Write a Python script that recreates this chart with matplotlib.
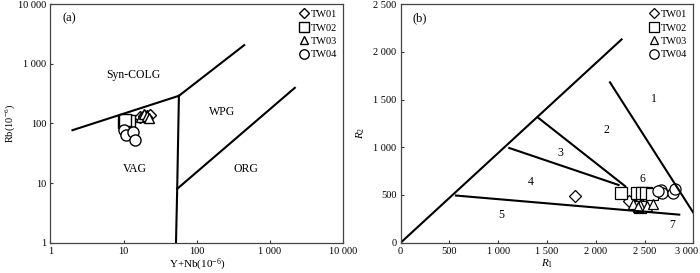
import matplotlib
matplotlib.use("Agg")
import matplotlib.pyplot as plt
import matplotlib.transforms as mtransforms
from matplotlib.ticker import FixedLocator, FuncFormatter, NullLocator

plt.rcParams['font.family'] = ['Liberation Serif', 'DejaVu Serif']
plt.rcParams['mathtext.fontset'] = 'custom'
plt.rcParams['mathtext.rm'] = 'Liberation Serif'
plt.rcParams['mathtext.it'] = 'Liberation Serif:italic'

samples = ['TW01', 'TW02', 'TW03', 'TW04']
markers = ['D', 's', '^', 'o']
msizes = [6, 8, 7, 8]

# (a) Rb vs Y+Nb  (ppm)
a_x = {
    'TW01': [17, 19, 21, 23, 20],
    'TW02': [10, 11, 12, 10.5],
    'TW03': [17.5, 19, 21, 22.5],
    'TW04': [10.2, 10.8, 13.4, 14.4],
}
a_y = {
    'TW01': [128, 135, 132, 140, 126],
    'TW02': [105, 110, 108, 112],
    'TW03': [130, 145, 135, 125],
    'TW04': [79, 65, 71, 52],
}
# Pearce boundaries
a_lines = [
    ([2, 57], [77, 290]),
    ([57, 54, 52], [290, 8, 1]),
    ([54, 2190], [8, 395]),
    ([57, 445], [290, 2050]),
]
a_labels = [('Syn-COLG', 13.5, 650), ('WPG', 220, 158), ('VAG', 14.4, 17), ('ORG', 470, 17)]

# (b) R1-R2
b_x = {
    'TW01': [1790, 2344, 2419, 2440, 2470],
    'TW02': [2258, 2419, 2470, 2515, 2573, 2453],
    'TW03': [2378, 2453, 2521, 2590, 2430],
    'TW04': [2665, 2675, 2795, 2812, 2640],
}
b_y = {
    'TW01': [494, 436, 408, 420, 400],
    'TW02': [519, 519, 519, 519, 512, 373],
    'TW03': [408, 390, 380, 401, 370],
    'TW04': [553, 519, 519, 564, 540],
}
b_lines = [
    ([0, 2265], [0, 2130]),
    ([2146, 3000], [1680, 315]),
    ([1404, 2303], [1314, 591]),
    ([1114, 2234], [992, 605]),
    ([567, 2856], [494, 294]),
]
b_labels = [('1', 2600, 1504), ('2', 2105, 1186), ('3', 1640, 937), ('4', 1336, 633),
            ('5', 1035, 287), ('6', 2474, 667), ('7', 2781, 183)]


def fmt_num(v, pos=None):
    s = f'{int(round(v)):,}'.replace(',', ' ')
    return s


fig = plt.figure(figsize=(7, 2.73), dpi=100)
ax1 = fig.add_axes([0.0721, 0.111, 0.418, 0.874])
ax2 = fig.add_axes([0.5724, 0.111, 0.418, 0.874])

for s, m, ms in zip(samples, markers, msizes):
    ax1.plot(a_x[s], a_y[s], ls='none', marker=m, ms=ms, mfc='white', mec='black', mew=1.0, label=s)
    ax2.plot(b_x[s], b_y[s], ls='none', marker=m, ms=ms, mfc='white', mec='black', mew=0.9, label=s)

for xs, ys in a_lines:
    ax1.plot(xs, ys, color='black', lw=1.5)
for t, x, y in a_labels:
    ax1.text(x, y, t, fontsize=8.5, ha='center', va='center')
for xs, ys in b_lines:
    ax2.plot(xs, ys, color='black', lw=1.5)
for t, x, y in b_labels:
    ax2.text(x, y, t, fontsize=8.5, ha='center', va='center')

ax1.set_xscale('log')
ax1.set_yscale('log')
ax1.set_xlim(1, 10000)
ax1.set_ylim(1, 10000)
dec = [1, 10, 100, 1000, 10000]
ax1.xaxis.set_major_locator(FixedLocator(dec))
ax1.yaxis.set_major_locator(FixedLocator(dec))
ax1.xaxis.set_minor_locator(NullLocator())
ax1.yaxis.set_minor_locator(NullLocator())
ax1.xaxis.set_major_formatter(FuncFormatter(fmt_num))
ax1.yaxis.set_major_formatter(FuncFormatter(fmt_num))
ax1.set_xlabel('Y+Nb(10$^{-6}$)', fontsize=8, labelpad=1)
ax1.set_ylabel('Rb(10$^{-6}$)', fontsize=7.5)
ax1.yaxis.set_label_coords(-0.115, 0.5)
ax1.text(0.04, 0.965, '(a)', transform=ax1.transAxes, fontsize=9, va='top')

ax2.set_xlim(0, 3000)
ax2.set_ylim(0, 2500)
ax2.set_xticks([0, 500, 1000, 1500, 2000, 2500, 3000])
ax2.set_yticks([0, 500, 1000, 1500, 2000, 2500])
ax2.xaxis.set_major_formatter(FuncFormatter(fmt_num))
ax2.yaxis.set_major_formatter(FuncFormatter(fmt_num))
ax2.set_xlabel('$R_1$', fontsize=8, labelpad=1)
ax2.set_ylabel('$R_2$', fontsize=8)
ax2.yaxis.set_label_coords(-0.115, 0.46)
ax2.text(0.04, 0.965, '(b)', transform=ax2.transAxes, fontsize=9, va='top')

for ax in (ax1, ax2):
    ax.tick_params(direction='in', length=2.5, width=0.8, labelsize=7.5, pad=3,
                   colors='#333333', labelcolor='black')
    for sp in ax.spines.values():
        sp.set_linewidth(0.9)
        sp.set_color('#444444')
    ax.legend(loc='upper right', frameon=False, fontsize=7.5, handletextpad=0.2,
              borderaxespad=0.15, labelspacing=0.4, handlelength=1.0, markerscale=0.85)

# keep the last x label of (b) inside the figure
fig.canvas.draw()
last = ax2.get_xticklabels()[-1]
last.set_horizontalalignment('right')
last.set_transform(last.get_transform() + mtransforms.ScaledTranslation(5 / 100, 0, fig.dpi_scale_trans))

fig.savefig('out.png', dpi=100)
